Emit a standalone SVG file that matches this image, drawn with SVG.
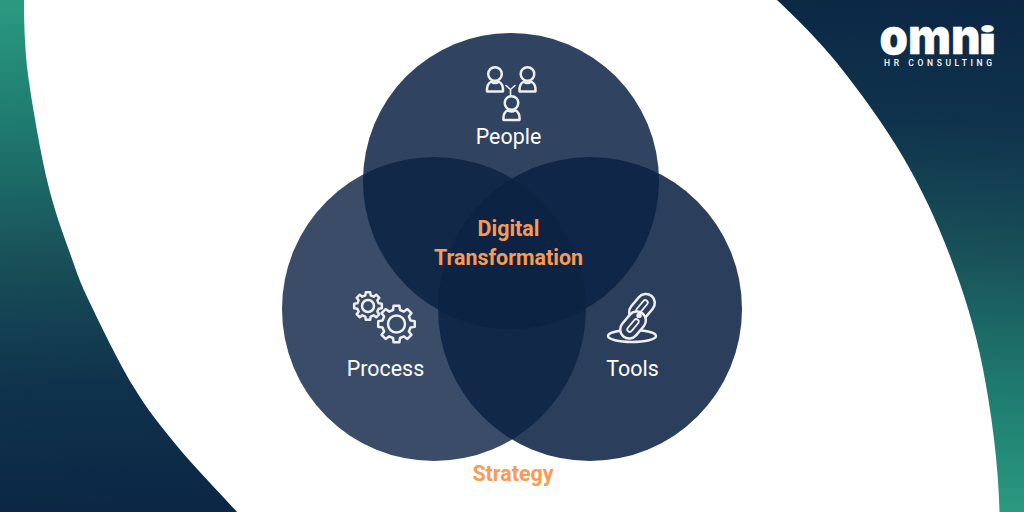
<svg xmlns="http://www.w3.org/2000/svg" width="1024" height="512" viewBox="0 0 1024 512">
<defs>
<linearGradient id="bgL" gradientUnits="userSpaceOnUse" x1="0" y1="0" x2="30" y2="512"><stop offset="0" stop-color="#2a9a80"/><stop offset="0.25" stop-color="#1e7a6f"/><stop offset="0.5" stop-color="#195159"/><stop offset="0.75" stop-color="#0f334c"/><stop offset="1" stop-color="#0b2745"/></linearGradient>
<linearGradient id="bgR" gradientUnits="userSpaceOnUse" x1="1010" y1="0" x2="980" y2="512"><stop offset="0" stop-color="#0b2745"/><stop offset="0.25" stop-color="#0f334c"/><stop offset="0.5" stop-color="#195159"/><stop offset="0.75" stop-color="#1e7a6f"/><stop offset="1" stop-color="#2a9a80"/></linearGradient>
<path id="gear" vector-effect="non-scaling-stroke" d="M.757 -.189L.988 -.156L.988 .156L.757 .189L.669 .402L.809 .588L.588 .809L.402 .669L.189 .757L.156 .988L-.156 .988L-.189 .757L-.402 .669L-.588 .809L-.809 .588L-.669 .402L-.757 .189L-.988 .156L-.988 -.156L-.757 -.189L-.669 -.402L-.809 -.588L-.588 -.809L-.402 -.669L-.189 -.757L-.156 -.988L.156 -.988L.189 -.757L.402 -.669L.588 -.809L.809 -.588L.669 -.402Z"/>
<path id="person" d="M-8 8.500C-8.500 3 -6.500 0 -3.500 -1.500C-1.500 .500 1.500 .500 3.500 -1.500C6.500 0 8.500 3 8 8.500Z"/>
</defs>
<style>
.c{fill:#0c2244}
.l{font-family:Roboto,"Liberation Sans",sans-serif;font-size:21.4px;fill:#fff;text-anchor:middle}
.o{font-family:Roboto,"Liberation Sans",sans-serif;font-size:21.4px;font-weight:700;fill:#fb9a52;text-anchor:middle}
.i{fill:none;stroke:#eef0f3;stroke-width:2.500;stroke-linejoin:round;stroke-linecap:round}
</style>
<g id="background">
<rect x="0" y="0" width="512" height="512" fill="url(#bgL)"/>
<rect x="512" y="0" width="512" height="512" fill="url(#bgR)"/>
<path d="M24 0C24 20 24.500 40 27 67C30.800 97 39.700 148.500 47 180C54.300 211.500 63.800 235.500 71 256C78.200 276.500 79.700 281.300 90 303C100.300 324.700 118.500 362.200 133 386C147.500 409.800 159.700 425 177 446C194.300 467 217 490 237 512H999.500C998.500 464 991.250 411.700 983 369C974.750 326.300 963.300 291.300 950 256C936.700 220.700 921.800 189.200 903 157C884.200 124.800 858 89.200 837 63C816 36.800 787 9.500 777 0Z" fill="#fff"/>
</g>
<g id="logo" fill="#fff">
<text y="53.500" font-family="Inter,Roboto,sans-serif" font-weight="900" stroke="#fff" stroke-width=".3" stroke-linejoin="round"><tspan x="879.500" font-size="49" textLength="101" lengthAdjust="spacingAndGlyphs">omn</tspan><tspan x="978.500" font-size="37" textLength="18" lengthAdjust="spacingAndGlyphs">i</tspan></text>
<text x="884" y="66" font-family="Roboto,'Liberation Sans',sans-serif" font-weight="500" font-size="8.500" textLength="108" lengthAdjust="spacing">HR CONSULTING</text>
</g>
<g id="circle-left"><circle class="c" fill-opacity=".81" cx="434" cy="309" r="152"/></g>
<g id="circle-right"><circle class="c" fill-opacity=".87" cx="590" cy="309" r="152"/></g>
<g id="circle-top"><circle class="c" fill-opacity=".85" cx="511" cy="181" r="148"/></g>
<g id="node-people">
<g class="i">
<circle cx="495" cy="74" r="6.800"/><use href="#person" x="495" y="83"/>
<circle cx="527.500" cy="74" r="6.800"/><use href="#person" x="527.500" y="83"/>
<circle cx="511.500" cy="103" r="6.800"/><use href="#person" x="511.500" y="111.500"/>
<path d="M506 85.500l4.500 4 4.500-4M510.500 89.500v6.500" stroke-width="1.600"/>
</g>
<text class="l" x="508.500" y="144">People</text>
</g>
<g id="node-process">
<g class="i">
<use href="#gear" transform="translate(368 306) scale(14)"/>
<circle cx="368" cy="306" r="6"/>
<use href="#gear" transform="translate(396.500 324) scale(18.500)"/>
<circle cx="396.500" cy="324" r="8.500"/>
</g>
<text class="l" x="385.500" y="376">Process</text>
</g>
<g id="node-tools">
<g class="i">
<ellipse cx="632" cy="336" rx="24" ry="6"/>
<rect x="633" y="292.500" width="18" height="30" rx="9" transform="rotate(40 642 307.500)" fill="#2d3f5c"/>
<rect x="639.500" y="299" width="5" height="15" rx="2.500" transform="rotate(40 642 306.500)" stroke-width="1.800"/>
<rect x="624" y="310" width="18" height="30" rx="9" transform="rotate(40 633 325)" fill="#2d3f5c"/>
<rect x="630.500" y="318" width="5" height="15" rx="2.500" transform="rotate(40 633 325.500)" stroke-width="1.800"/>
<circle cx="639" cy="315.500" r="1.500" fill="#eef0f3"/>
</g>
<text class="l" x="632.500" y="376">Tools</text>
</g>
<g id="node-center">
<text class="o" x="508.500" y="236">Digital</text>
<text class="o" x="508.500" y="265">Transformation</text>
</g>
<g id="label-strategy"><text class="o" x="513" y="481">Strategy</text></g>
<g id="connectors"></g>
</svg>
